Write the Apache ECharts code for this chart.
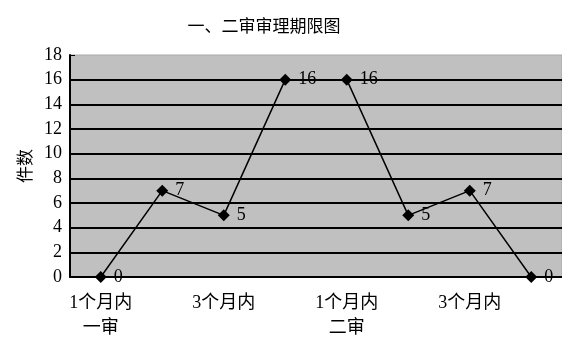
<!DOCTYPE html>
<html>
<head>
<meta charset="utf-8">
<script src="https://cdn.jsdelivr.net/npm/echarts@6/dist/echarts.min.js"></script>
<style>
  html, body { margin: 0; padding: 0; background: #fff; }
  #chart { width: 562px; height: 342px; }
</style>
</head>
<body>
<div id="chart"></div>
<script>
const categories = ['1个月内', '2个月内', '3个月内', '3个月以上', '1个月内', '2个月内', '3个月内', '3个月以上'];
const groupNames = { 0: '一审', 4: '二审' };
const counts = [0, 7, 5, 16, 16, 5, 7, 0];
const yTicks = { min: 0, max: 18, interval: 2 };

const serif = '"Liberation Serif", "Noto Sans CJK SC", serif';

const chart = echarts.init(document.getElementById('chart'));

chart.setOption({
  animation: false,
  title: {
    text: '一、二审审理期限图',
    left: 259,
    textAlign: 'center',
    top: 12,
    textStyle: { fontFamily: '"Noto Sans CJK SC", sans-serif', fontSize: 17, fontWeight: 'normal', color: '#000' }
  },
  grid: {
    left: 70, right: 0, top: 55, bottom: 65,
    show: true,
    backgroundColor: '#c0c0c0',
    borderColor: '#a8a8a8',
    borderWidth: 1
  },
  xAxis: {
    type: 'category',
    data: categories,
    boundaryGap: true,
    axisLine: { lineStyle: { color: '#000', width: 2 } },
    axisTick: { inside: true, length: 5, lineStyle: { color: '#000' } },
    axisLabel: {
      interval: 1,
      margin: 14,
      color: '#000',
      fontFamily: serif,
      fontSize: 18,
      lineHeight: 25,
      formatter: (v, i) => groupNames[i] ? v + '\n' + groupNames[i] : v
    }
  },
  yAxis: {
    type: 'value',
    min: yTicks.min,
    max: yTicks.max,
    interval: yTicks.interval,
    name: '件数',
    nameLocation: 'middle',
    nameGap: 32,
    nameTextStyle: { fontFamily: '"Noto Sans CJK SC", sans-serif', fontSize: 17, color: '#000' },
    axisLine: { show: true, lineStyle: { color: '#000', width: 2 } },
    axisTick: { show: true, inside: true, length: 5, lineStyle: { color: '#000' } },
    axisLabel: { margin: 8, color: '#000', fontFamily: serif, fontSize: 18 },
    splitLine: { show: true, showMaxLine: false, lineStyle: { color: '#000', width: 2 } }
  },
  series: [{
    type: 'line',
    data: counts,
    symbol: 'diamond',
    symbolSize: 12,
    itemStyle: { color: '#000' },
    lineStyle: { color: '#000', width: 1.5 },
    label: {
      show: true,
      position: 'right',
      distance: 7,
      color: '#000',
      fontFamily: serif,
      fontSize: 18
    }
  }]
});
</script>
</body>
</html>
